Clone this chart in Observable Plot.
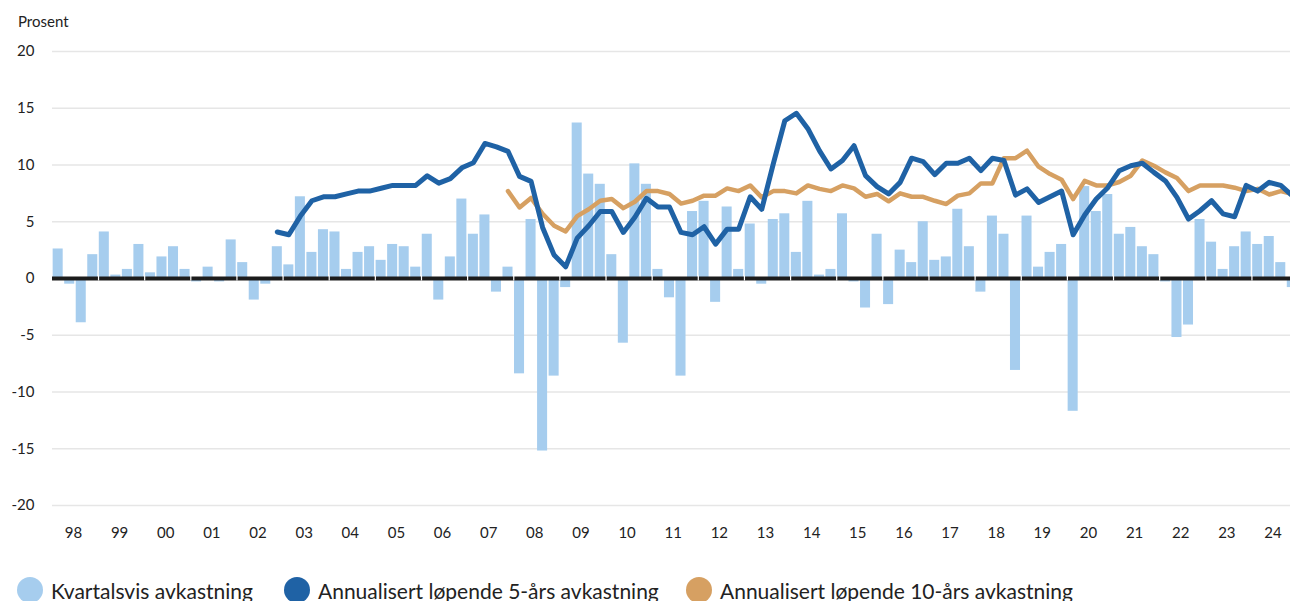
<!DOCTYPE html>
<html>
<head>
<meta charset="utf-8">
<script src="https://cdn.jsdelivr.net/npm/d3@7"></script>
<script src="https://cdn.jsdelivr.net/npm/@observablehq/plot@0.6"></script>
<style>
  html, body { margin: 0; padding: 0; background: #fff; overflow: hidden; width: 1290px; height: 601px; }
  #wrap { position: relative; width: 1290px; height: 601px; font-family: Lato, "Open Sans", sans-serif; color: #222; }
  #unit { position: absolute; left: 18px; top: 12px; font-size: 15px; color: #222; }
  #chart { position: absolute; left: 0; top: 0; }
  .lg { position: absolute; top: 575px; height: 30px; display: flex; align-items: center; white-space: nowrap; font-size: 21px; color: #222; }
  .lg span.dot { display: inline-block; width: 26px; height: 26px; border-radius: 50%; margin-right: 8px; }
</style>
</head>
<body>
<div id="wrap">
  <div id="chart"></div>
  <div id="unit">Prosent</div>
  <div id="legend"></div>
</div>
<script>
// Year labels (one per year, 1998–2024)
const yearLabels = ["98","99","00","01","02","03","04","05","06","07","08","09","10","11","12","13","14","15","16","17","18","19","20","21","22","23","24"];
// Quarter categories
const quarters = yearLabels.flatMap(y => ["K1","K2","K3","K4"].map(k => y + k));
// Y tick values
const yTicks = [-20, -15, -10, -5, 0, 5, 10, 15, 20];

// Kvartalsvis avkastning (prosent)
const kvartal = [
  2.6, -0.5, -3.9, 2.1,
  4.1, 0.3, 0.8, 3.0,
  0.5, 1.9, 2.8, 0.8,
  -0.3, 1.0, -0.3, 3.4,
  1.4, -1.9, -0.5, 2.8,
  1.2, 7.2, 2.3, 4.3,
  4.1, 0.8, 2.3, 2.8,
  1.6, 3.0, 2.8, 1.0,
  3.9, -1.9, 1.9, 7.0,
  3.9, 5.6, -1.2, 1.0,
  -8.4, 5.2, -15.2, -8.6,
  -0.8, 13.7, 9.2, 8.3,
  2.1, -5.7, 10.1, 8.3,
  0.8, -1.7, -8.6, 5.9,
  6.8, -2.1, 6.3, 0.8,
  4.8, -0.5, 5.2, 5.7,
  2.3, 6.8, 0.3, 0.8,
  5.7, -0.3, -2.6, 3.9,
  -2.3, 2.5, 1.4, 5.0,
  1.6, 1.9, 6.1, 2.8,
  -1.2, 5.5, 3.9, -8.1,
  5.5, 1.0, 2.3, 3.0,
  -11.7, 8.1, 5.9, 7.4,
  3.9, 4.5, 2.8, 2.1,
  -0.3, -5.2, -4.1, 5.2,
  3.2, 0.8, 2.8, 4.1,
  3.0, 3.7, 1.4, -0.8
];

// Annualisert løpende 5-års avkastning (from 02K4)
const fem = [
  null, null, null, null,
  null, null, null, null,
  null, null, null, null,
  null, null, null, null,
  null, null, null, 4.1,
  3.85, 5.5, 6.85, 7.2,
  7.2, 7.45, 7.7, 7.7,
  7.95, 8.2, 8.2, 8.2,
  9.05, 8.4, 8.8, 9.75,
  10.2, 11.9, 11.6, 11.2,
  9.0, 8.56, 4.5, 2.06,
  1.03, 3.56, 4.65, 5.9,
  5.9, 4.06, 5.4, 7.06,
  6.3, 6.3, 4.06, 3.85,
  4.56, 3.03, 4.35, 4.35,
  7.2, 6.1, 10.1, 13.9,
  14.56, 13.2, 11.26, 9.65,
  10.4, 11.7, 9.06, 8.1,
  7.45, 8.47, 10.6, 10.3,
  9.15, 10.15, 10.15, 10.6,
  9.5, 10.6, 10.4, 7.35,
  7.9, 6.7, 7.2, 7.7,
  3.85, 5.6, 7.0, 8.0,
  9.5, 9.94, 10.15, 9.35,
  8.6, 7.15, 5.24, 5.97,
  6.85, 5.7, 5.44, 8.2,
  7.7, 8.47, 8.2, 7.3
];

// Annualisert løpende 10-års avkastning (from 07K4)
const ti = [
  null, null, null, null,
  null, null, null, null,
  null, null, null, null,
  null, null, null, null,
  null, null, null, null,
  null, null, null, null,
  null, null, null, null,
  null, null, null, null,
  null, null, null, null,
  null, null, null, 7.7,
  6.26, 7.1, 5.7, 4.65,
  4.15, 5.5, 6.1, 6.85,
  7.0, 6.2, 6.76, 7.7,
  7.7, 7.45, 6.6, 6.85,
  7.3, 7.3, 7.94, 7.7,
  8.2, 7.15, 7.7, 7.7,
  7.5, 8.2, 7.9, 7.7,
  8.2, 7.94, 7.2, 7.45,
  6.8, 7.5, 7.2, 7.2,
  6.85, 6.56, 7.3, 7.5,
  8.38, 8.38, 10.6, 10.6,
  11.26, 9.85, 9.2, 8.7,
  7.0, 8.6, 8.2, 8.2,
  8.5, 9.06, 10.4, 9.94,
  9.35, 8.85, 7.7, 8.2,
  8.2, 8.2, 8.0, 7.7,
  7.9, 7.4, 7.7, 7.45
];

const seriesNames = ["Kvartalsvis avkastning", "Annualisert løpende 5-års avkastning", "Annualisert løpende 10-års avkastning"];
const colors = ["#a6cdee", "#1f62a5", "#d6a062"];

const rows = quarters.map((q, i) => ({ i, q, k: kvartal[i], f: fem[i], t: ti[i] }));
const femRows = rows.filter(d => d.f != null);
const tiRows = rows.filter(d => d.t != null);
const yearStarts = yearLabels.map((y, j) => j * 4).filter(v => v > 0);
const yearCenters = yearLabels.map((y, j) => j * 4 + 2);

const x0 = 51.9, step = 11.534;

const chart = Plot.plot({
  width: 1290,
  height: 560,
  marginTop: 51,
  marginBottom: 55,
  marginLeft: 52,
  marginRight: 0,
  style: { fontFamily: "Lato, 'Open Sans', sans-serif", color: "#222", background: "transparent", overflow: "hidden" },
  x: { domain: [0, quarters.length], range: [x0, x0 + quarters.length * step] },
  y: { domain: [-20, 20] },
  marks: [
    Plot.ruleY(yTicks.filter(v => v !== 0), { stroke: "#e6e6e6", strokeWidth: 1.5 }),
    Plot.axisY({ ticks: yTicks, tickSize: 0, tickPadding: 18, fontSize: 15, tickFormat: d => String(d), label: null }),
    Plot.axisX({ ticks: yearCenters, tickSize: 0, tickPadding: 22, fontSize: 15, dx: -2, tickFormat: d => yearLabels[(d - 2) / 4], label: null }),
    Plot.rectY(rows, { x1: "i", x2: d => d.i + 1, y: "k", fill: colors[0], insetLeft: 0.75, insetRight: 0.75 }),
    Plot.ruleY([0], { stroke: "#1c1c1c", strokeWidth: 4 }),
    Plot.ruleX(yearStarts, { y1: -0.22, y2: 0.22, stroke: "#ffffff", strokeWidth: 1.2 }),
    Plot.line(tiRows, { x: d => d.i + 0.5, y: "t", stroke: colors[2], strokeWidth: 4.5, strokeLinejoin: "round", strokeLinecap: "round" }),
    Plot.line(femRows, { x: d => d.i + 0.5, y: "f", stroke: colors[1], strokeWidth: 5, strokeLinejoin: "round", strokeLinecap: "round" })
  ]
});
document.getElementById("chart").appendChild(chart);

const legendLefts = [17, 284, 686];
const legend = document.getElementById("legend");
seriesNames.forEach((name, j) => {
  const item = document.createElement("div");
  item.className = "lg";
  item.style.left = legendLefts[j] + "px";
  item.innerHTML = `<span class="dot" style="background:${colors[j]}"></span><span>${name}</span>`;
  legend.appendChild(item);
});
</script>
</body>
</html>
